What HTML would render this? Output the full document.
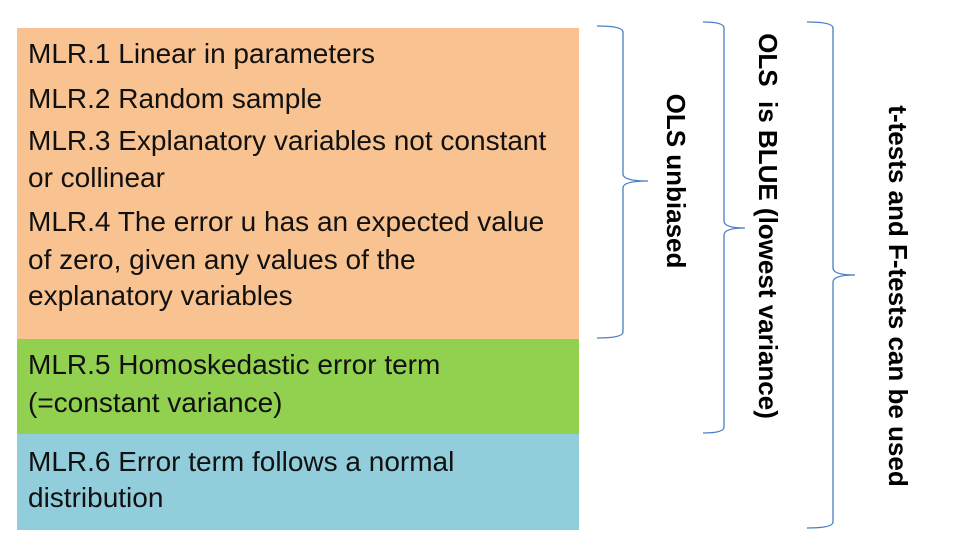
<!DOCTYPE html>
<html><head><meta charset="utf-8"><style>
body{margin:0;background:#fff;}
.wrap{position:relative;width:965px;height:547px;overflow:hidden;font-family:"Liberation Sans",sans-serif;}
.box{position:absolute;left:17px;width:562px;}
.ln{position:absolute;left:28px;font-size:28px;line-height:36px;height:36px;white-space:nowrap;color:#111;}
</style></head><body>
<div class="wrap">
<div class="box" style="top:28px;height:311px;background:#F8C291;"></div>
<div class="box" style="top:339px;height:95px;background:#92D050;"></div>
<div class="box" style="top:434px;height:96px;background:#92CDDC;"></div>
<div class="ln" style="top:36px">MLR.1 Linear in parameters</div>
<div class="ln" style="top:81px">MLR.2 Random sample</div>
<div class="ln" style="top:123px">MLR.3 Explanatory variables not constant</div>
<div class="ln" style="top:160px">or collinear</div>
<div class="ln" style="top:204px">MLR.4 The error u has an expected value</div>
<div class="ln" style="top:242px">of zero, given any values of the</div>
<div class="ln" style="top:278px">explanatory variables</div>
<div class="ln" style="top:347px">MLR.5 Homoskedastic error term</div>
<div class="ln" style="top:385px">(=constant variance)</div>
<div class="ln" style="top:444px">MLR.6 Error term follows a normal</div>
<div class="ln" style="top:480px">distribution</div>
<svg width="965" height="547" style="position:absolute;left:0;top:0">
<g fill="none" stroke="#4A7EC4" stroke-width="1.3">
<path d="M597 26 Q623 26 623 32 L623 174 Q623 181 648 181 Q623 181 623 188 L623 332 Q623 338 597 338"/>
<path d="M703 22 Q724 22 724 28 L724 221 Q724 228 745 228 Q724 228 724 235 L724 427 Q724 433 703 433"/>
<path d="M807 22 Q833 22 833 28 L833 268 Q833 275 855 275 Q833 275 833 282 L833 522 Q833 528 807 528"/>
</g>
<g font-family="Liberation Sans, sans-serif" font-weight="bold" font-size="26" fill="#000" text-anchor="middle">
<text transform="translate(667,181) rotate(90)">OLS unbiased</text>
<text transform="translate(759,226) rotate(90)" xml:space="preserve">OLS  is BLUE (lowest variance)</text>
<text transform="translate(889,296) rotate(90)">t-tests and F-tests can be used</text>
</g>
</svg>
</div>
</body></html>
